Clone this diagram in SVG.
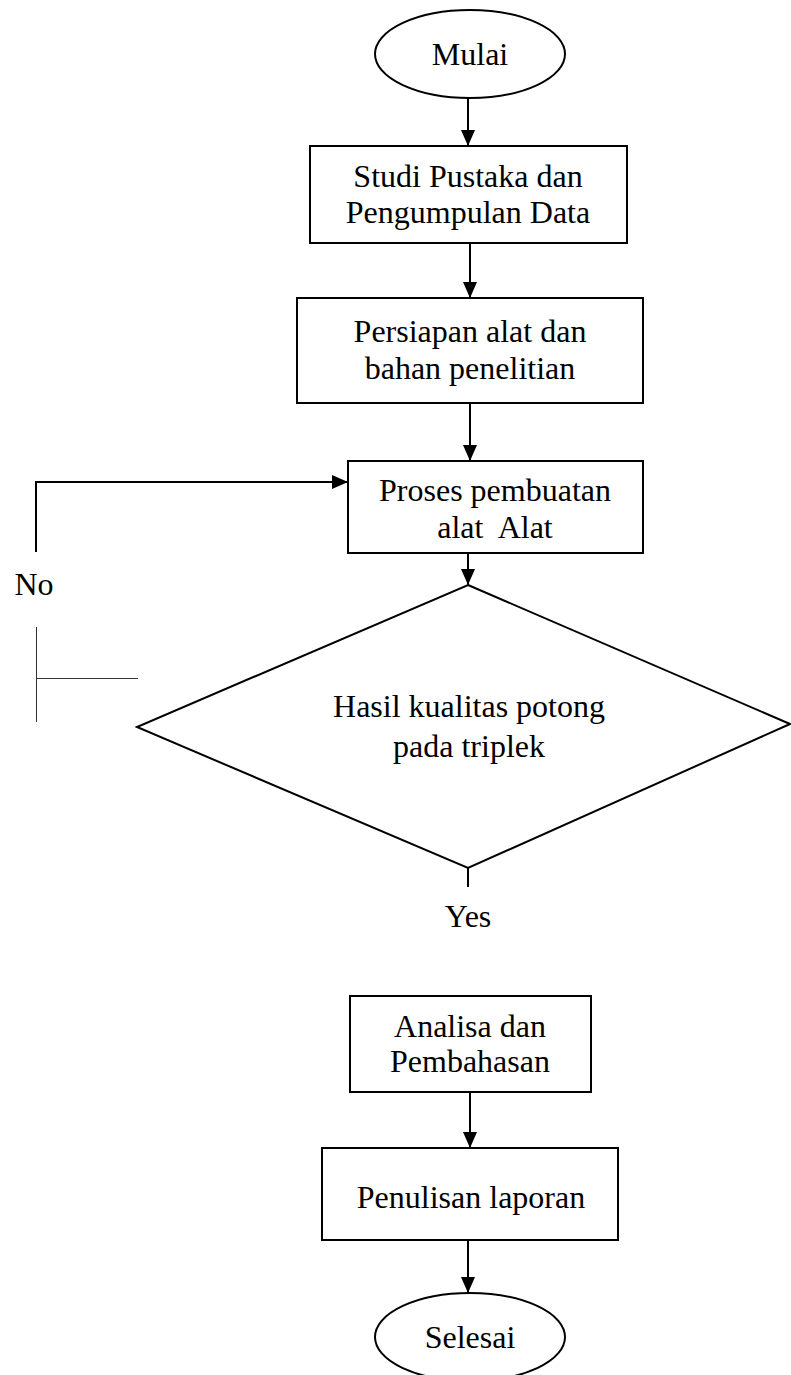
<svg xmlns="http://www.w3.org/2000/svg" width="791" height="1375" viewBox="0 0 791 1375">
<style>
.shape{fill:#fff;stroke:#000;stroke-width:2}
.lbl{font-family:"Liberation Serif","Times New Roman",serif;font-size:32px;fill:#000;text-anchor:middle}
.conn{fill:none;stroke:#000;stroke-width:2}
.thin{fill:none;stroke:#333;stroke-width:1}
</style>
<defs>
<marker id="arr" markerUnits="userSpaceOnUse" markerWidth="16" markerHeight="16" refX="16" refY="7" orient="auto">
<path d="M0,0 L16,7 L0,14 Z" fill="#000"/>
</marker>
</defs>
<g id="mulai">
<ellipse class="shape" cx="470" cy="54" rx="95" ry="44"/>
<text class="lbl" x="470" y="65">Mulai</text>
</g>
<g id="studi">
<rect class="shape" x="310" y="146" width="317" height="97"/>
<text class="lbl" x="468" y="187">Studi Pustaka dan</text>
<text class="lbl" x="468" y="223">Pengumpulan Data</text>
</g>
<g id="persiapan">
<rect class="shape" x="297" y="298" width="346" height="105"/>
<text class="lbl" x="470" y="342">Persiapan alat dan</text>
<text class="lbl" x="470" y="379">bahan penelitian</text>
</g>
<g id="proses">
<rect class="shape" x="348" y="461" width="295" height="92"/>
<text class="lbl" x="495" y="501">Proses pembuatan</text>
<text class="lbl" x="495" y="538" xml:space="preserve">alat  Alat</text>
</g>
<g id="hasil">
<polygon class="shape" points="468,585 790,724 468,868 137,727"/>
<text class="lbl" x="469" y="717">Hasil kualitas potong</text>
<text class="lbl" x="469" y="757">pada triplek</text>
</g>
<g id="analisa">
<rect class="shape" x="350" y="996" width="241" height="96"/>
<text class="lbl" x="470" y="1037">Analisa dan</text>
<text class="lbl" x="470" y="1072">Pembahasan</text>
</g>
<g id="penulisan">
<rect class="shape" x="322" y="1148" width="296" height="92"/>
<text class="lbl" x="471" y="1208">Penulisan laporan</text>
</g>
<g id="selesai">
<ellipse class="shape" cx="470" cy="1337" rx="95" ry="44"/>
<text class="lbl" x="470" y="1348">Selesai</text>
</g>
<g id="connectors">
<line class="conn" x1="468" y1="98" x2="468" y2="146" marker-end="url(#arr)"/>
<line class="conn" x1="470" y1="243" x2="470" y2="298" marker-end="url(#arr)"/>
<line class="conn" x1="470" y1="403" x2="470" y2="461" marker-end="url(#arr)"/>
<line class="conn" x1="468" y1="553" x2="468" y2="585" marker-end="url(#arr)"/>
<polyline class="conn" points="36,552 36,482 348,482" marker-end="url(#arr)"/>
<line class="conn" x1="468" y1="868" x2="468" y2="887"/>
<line class="conn" x1="470" y1="1092" x2="470" y2="1148" marker-end="url(#arr)"/>
<line class="conn" x1="468" y1="1240" x2="468" y2="1293" marker-end="url(#arr)"/>
<line class="thin" x1="36.5" y1="627" x2="36.5" y2="722"/>
<line class="thin" x1="36.5" y1="678.5" x2="138" y2="678.5"/>
<text class="lbl" x="34" y="595">No</text>
<text class="lbl" x="468" y="927">Yes</text>
</g>
</svg>
